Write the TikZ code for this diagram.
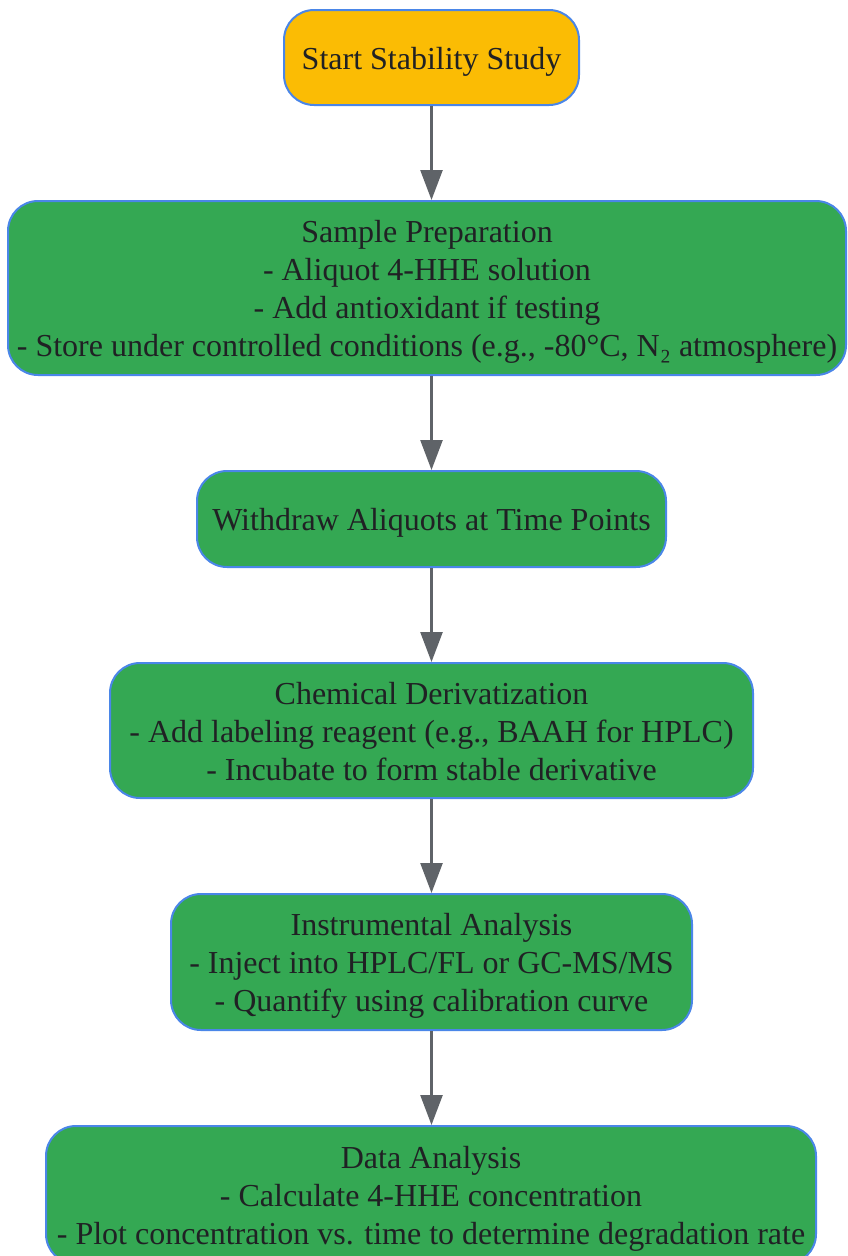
\documentclass[tikz,border=0pt]{standalone}
\usepackage{fontspec}
\setmainfont{Liberation Serif}
\usetikzlibrary{arrows.meta}
\definecolor{bordblue}{HTML}{4A86E8}
\definecolor{stepgreen}{HTML}{34A853}
\definecolor{startyellow}{HTML}{FBBC04}
\definecolor{txt}{HTML}{202124}
\definecolor{arrgray}{HTML}{5F6368}
\newcommand\lowr[1]{\raisebox{-4pt}[\height][\depth]{\begin{tabular}{@{}c@{}}#1\end{tabular}}}
\tikzset{
  box/.style={draw=bordblue, line width=2pt, rounded corners=30pt, align=center,
    text=txt, font=\fontsize{32}{38}\selectfont, inner sep=0pt},
  greenbox/.style={box, fill=stepgreen},
  startbox/.style={box, fill=startyellow},
  arr/.style={draw=arrgray, line width=2.5pt, -{Triangle[width=22pt,length=30pt]}}
}
\begin{document}
\begin{tikzpicture}[x=1pt,y=1pt]
\useasboundingbox (0,0) rectangle (847,-1256);
\node[startbox, minimum width=295pt, minimum height=95pt] (start) at (431.5,-57.5) {\lowr{Start Stability Study}};
\node[greenbox, minimum width=838pt, minimum height=174pt] (prep) at (427,-288) {\lowr{Sample Preparation\\- Aliquot 4-HHE solution\\- Add antioxidant if testing\\- Store under controlled conditions (e.g., -80°C, N₂ atmosphere)}};
\node[greenbox, minimum width=469pt, minimum height=96pt] (withdraw) at (431.5,-519) {\lowr{Withdraw Aliquots at Time Points}};
\node[greenbox, minimum width=643pt, minimum height=135pt] (deriv) at (431.5,-730.5) {\lowr{Chemical Derivatization\\- Add labeling reagent (e.g., BAAH for HPLC)\\- Incubate to form stable derivative}};
\node[greenbox, minimum width=521pt, minimum height=136pt] (instr) at (431.5,-962) {\lowr{Instrumental Analysis\\- Inject into HPLC/FL or GC-MS/MS\\- Quantify using calibration curve}};
\node[greenbox, minimum width=770pt, minimum height=138pt] (data) at (431,-1195) {\lowr{Data Analysis\\- Calculate 4-HHE concentration\\- Plot concentration vs. time to determine degradation rate}};
\draw[arr] (start.south) -- (start.south |- prep.north);
\draw[arr] (prep.south -| withdraw.north) -- (withdraw.north);
\draw[arr] (withdraw.south) -- (deriv.north);
\draw[arr] (deriv.south) -- (instr.north);
\draw[arr] (instr.south) -- (data.north -| instr.south);
\end{tikzpicture}
\end{document}
